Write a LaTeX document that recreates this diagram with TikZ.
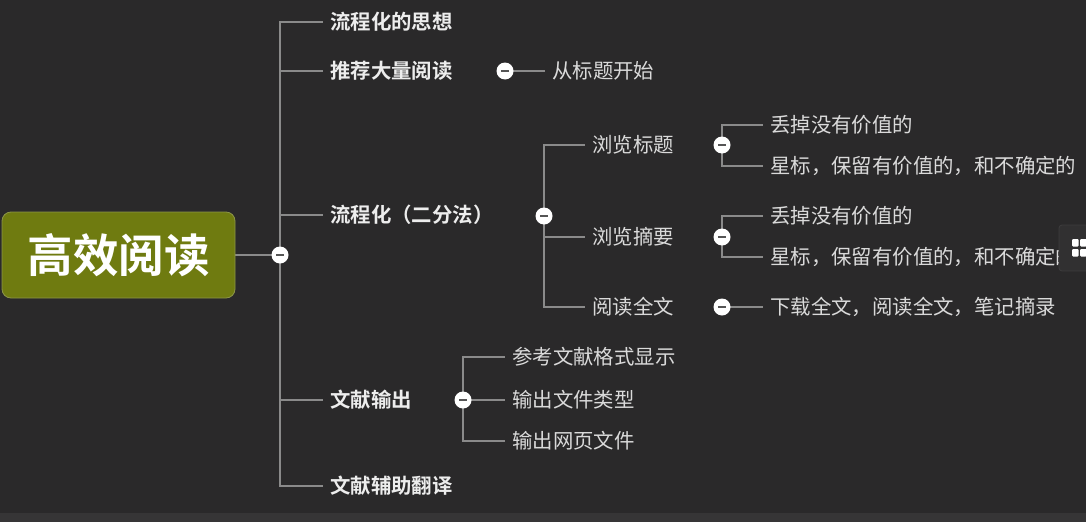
\documentclass[tikz,border=0pt]{standalone}
\usepackage{fontspec}
\newfontfamily\cjk{Noto Sans CJK SC}
\newfontfamily\cjkb{Noto Sans CJK SC Bold}
\pgfdeclarelayer{back}
\pgfdeclarelayer{lines}
\pgfsetlayers{back,lines,main}
\definecolor{bgc}{HTML}{2A292A}
\definecolor{stripc}{HTML}{363536}
\definecolor{linec}{HTML}{8A8A8A}
\definecolor{rootc}{HTML}{6F7B10}
\definecolor{rootb}{HTML}{8C9548}
\definecolor{txtc}{HTML}{EDEDED}
\definecolor{minusc}{HTML}{555555}
\definecolor{panelc}{HTML}{313031}
\definecolor{panelb}{HTML}{3D3C3D}
\tikzset{
  main/.style={anchor=west, inner sep=0pt, text=txtc, font=\cjkb\fontsize{20.4}{23}\selectfont},
  sub/.style={anchor=west, inner sep=0pt, text=txtc!92!black, font=\cjk\fontsize{20.4}{23}\selectfont},
  tog/.style={circle, fill=white, minimum size=17pt, inner sep=0pt,
    path picture={\draw[minusc, line width=2pt] ([xshift=-4pt]path picture bounding box.center) -- ([xshift=4pt]path picture bounding box.center);}},
  conn/.style={draw=linec, line width=1.3pt},
  gap/.style={shorten >=7pt}
}
\begin{document}
\begin{tikzpicture}[x=1pt,y=-1pt]
\useasboundingbox (0,0) rectangle (1086,522);
\begin{pgfonlayer}{back}
\fill[bgc] (0,0) rectangle (1086,522);
\fill[stripc] (0,513) rectangle (1086,522);
\end{pgfonlayer}

% root
\node[draw=rootb, line width=0.8pt, fill=rootc, rounded corners=9pt, minimum width=233pt, minimum height=86pt,
  text=white, font=\cjkb\fontsize{45.5}{50}\selectfont, inner sep=0pt] (root) at (118.5,255) {高效阅读};
\node[tog] (c0) at (280,255) {};

% level 1
\node[main] (a1) at (330,22) {流程化的思想};
\node[main] (a2) at (330,71) {推荐大量阅读};
\node[main] (a3) at (330,215) {流程化（二分法）};
\node[main] (a4) at (330,400) {文献输出};
\node[main] (a5) at (330,486) {文献辅助翻译};

% a2 children
\node[tog] (c2) at (505,71) {};
\node[sub] (b21) at (552,71) {从标题开始};

% a3 children
\node[tog] (c3) at (544,216) {};
\node[sub] (b31) at (592,145) {浏览标题};
\node[sub] (b32) at (592,237) {浏览摘要};
\node[sub] (b33) at (592,307) {阅读全文};

\node[tog] (c31) at (722,145) {};
\node[sub] (d311) at (770,125) {丢掉没有价值的};
\node[sub] (d312) at (770,166) {星标，保留有价值的，和不确定的};

\node[tog] (c32) at (722,237) {};
\node[sub] (d321) at (770,216) {丢掉没有价值的};
\node[sub] (d322) at (770,257) {星标，保留有价值的，和不确定的};

\node[tog] (c33) at (722,307) {};
\node[sub] (d331) at (770,307) {下载全文，阅读全文，笔记摘录};

% a4 children
\node[tog] (c4) at (463,400) {};
\node[sub] (b41) at (512,357) {参考文献格式显示};
\node[sub] (b42) at (512,400) {输出文件类型};
\node[sub] (b43) at (512,441) {输出网页文件};

\begin{pgfonlayer}{lines}
\draw[conn] (root.east) -- (c0.center);
\foreach \t in {a1,a2,a3,a4,a5} \draw[conn,gap] (c0.center) |- (\t.west);
\draw[conn,gap] (c2.center) -- (b21.west);
\foreach \t in {b31,b32,b33} \draw[conn,gap] (c3.center) |- (\t.west);
\foreach \t in {d311,d312} \draw[conn,gap] (c31.center) |- (\t.west);
\foreach \t in {d321,d322} \draw[conn,gap] (c32.center) |- (\t.west);
\draw[conn,gap] (c33.center) -- (d331.west);
\foreach \t in {b41,b42,b43} \draw[conn,gap] (c4.center) |- (\t.west);
\end{pgfonlayer}

% side panel (screen widget)
\fill[panelc, draw=panelb, line width=0.8pt, rounded corners=3pt] (1059,225) rectangle (1092,271);
\foreach \xx in {1072,1080} \foreach \yy in {239,249}
  \fill[white, rounded corners=1pt] (\xx,\yy) rectangle ++(6.5,7.5);
\end{tikzpicture}
\end{document}
